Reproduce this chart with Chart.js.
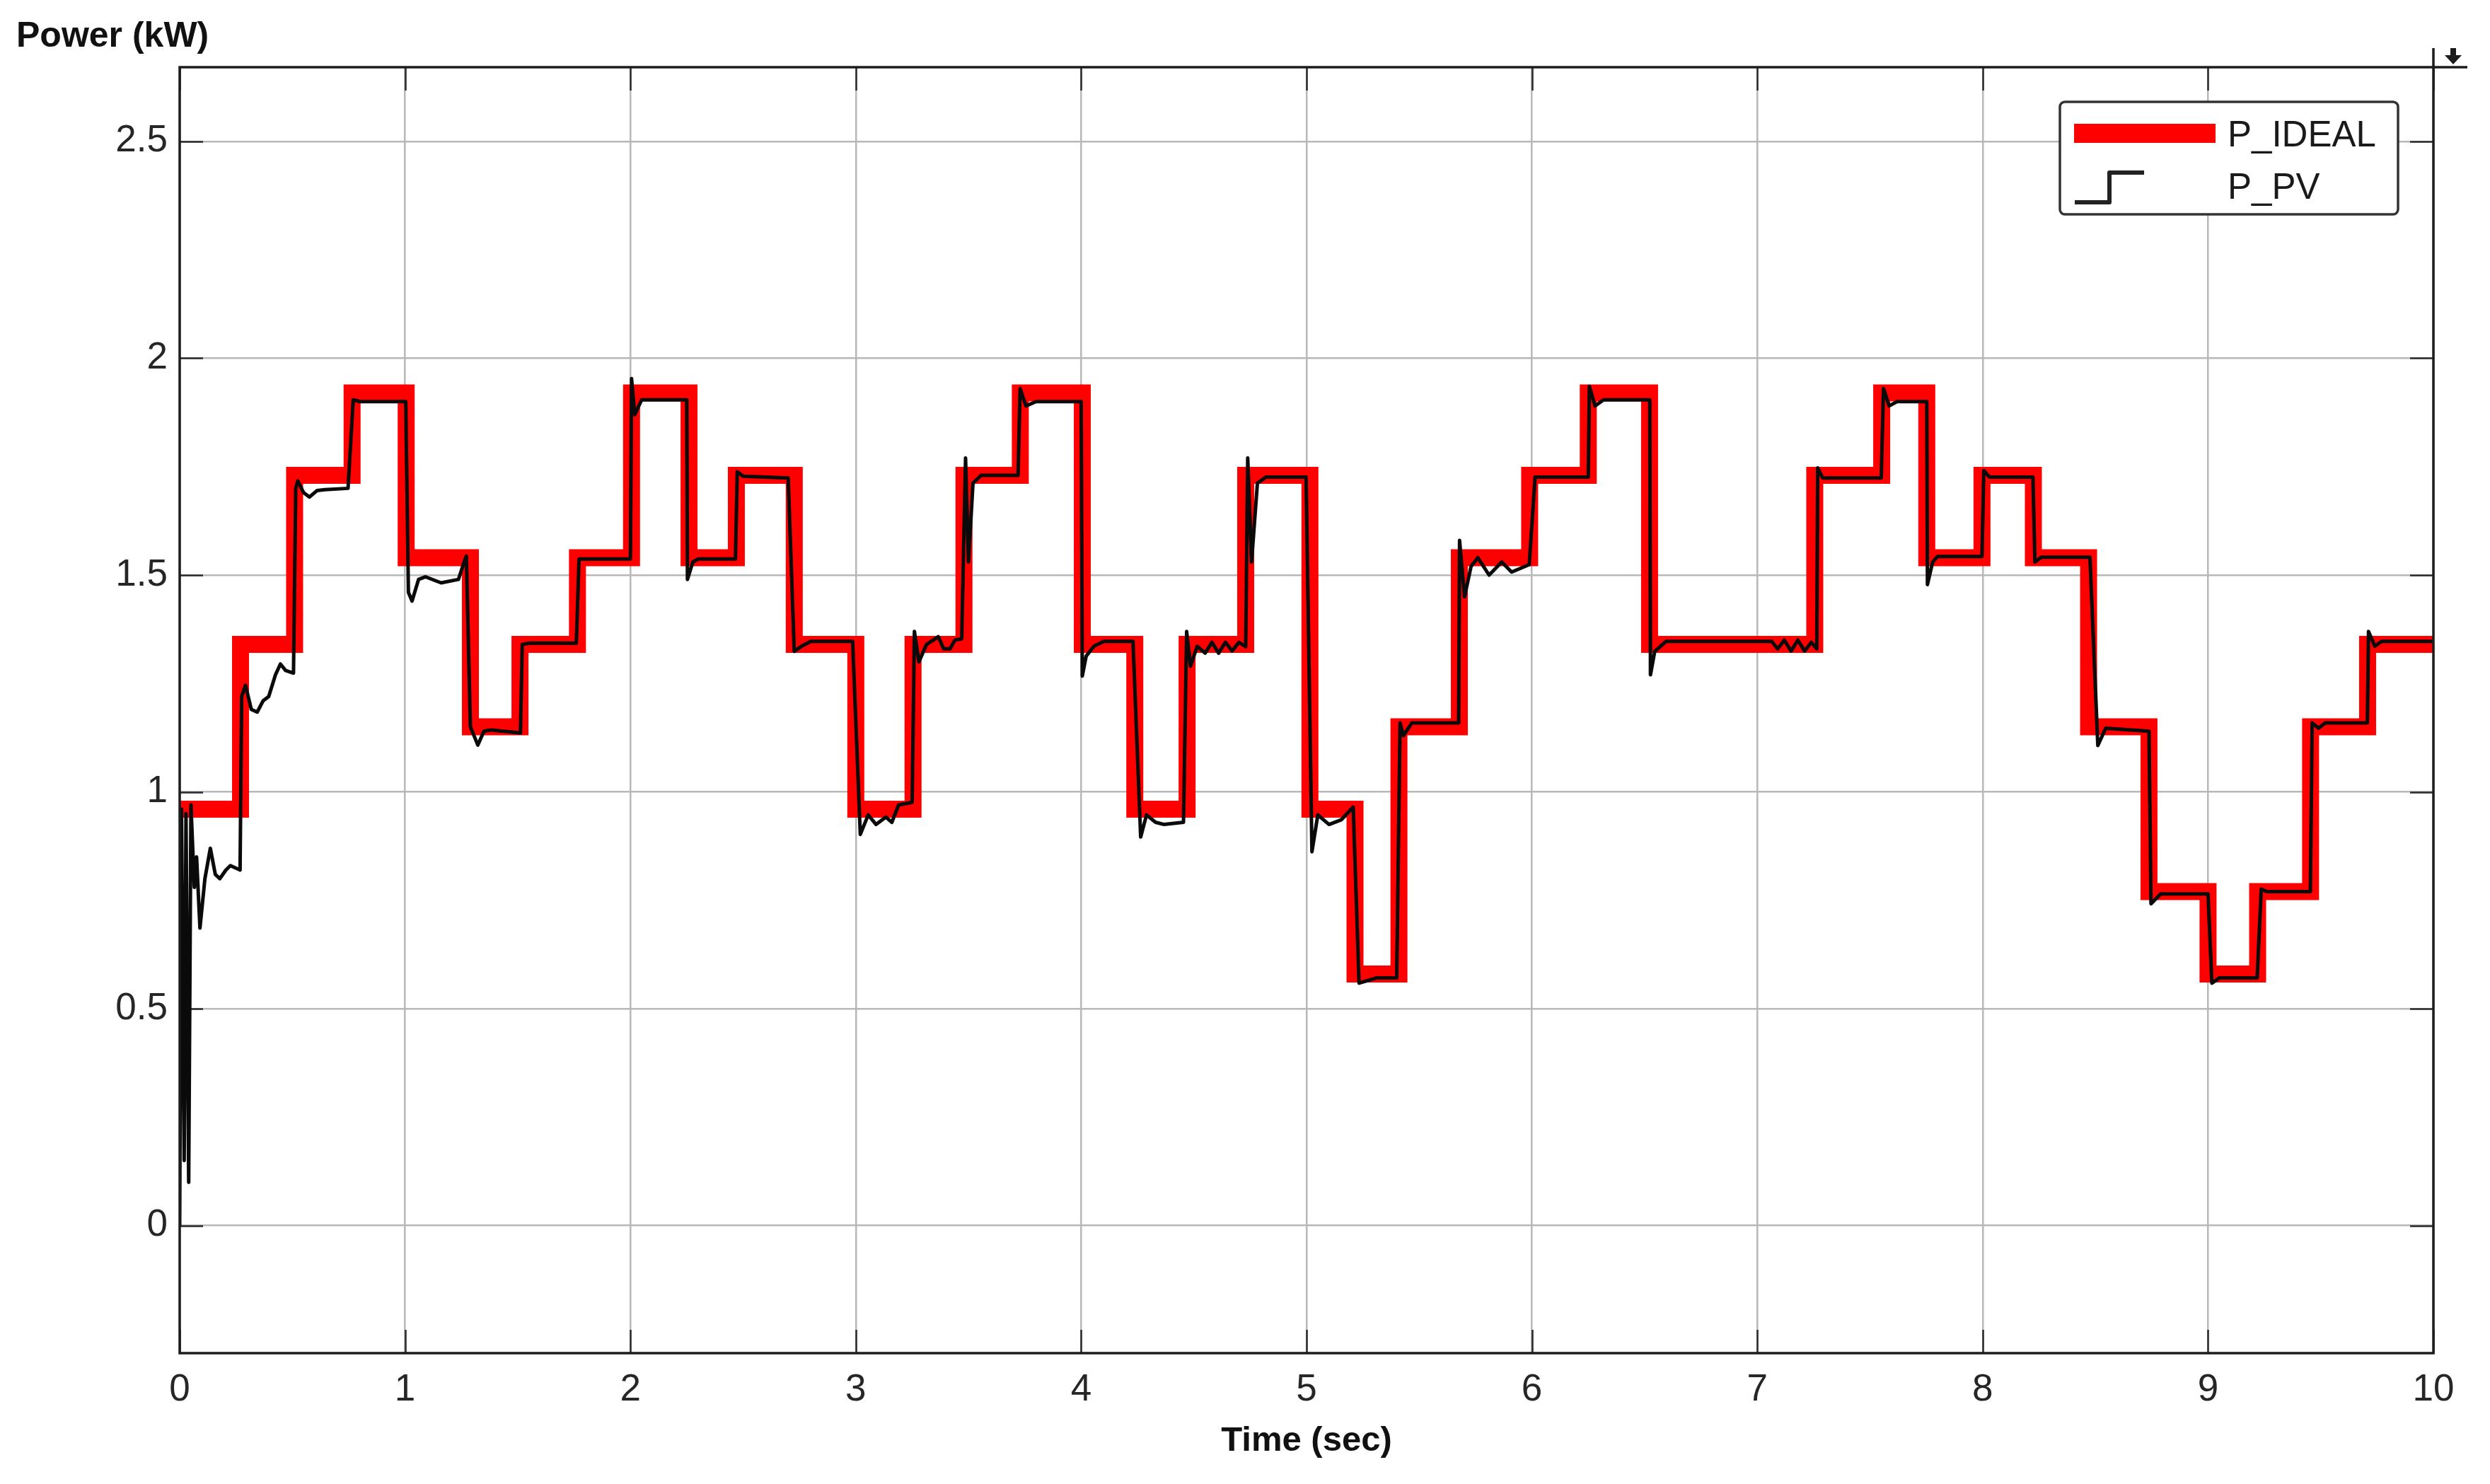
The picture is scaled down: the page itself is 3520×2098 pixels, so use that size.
<!DOCTYPE html>
<html>
<head>
<meta charset="utf-8">
<title>P_IDEAL vs P_PV</title>
<script src="https://cdn.jsdelivr.net/npm/chart.js@4.4.1/dist/chart.umd.min.js"></script>
<style>
  html, body { margin: 0; padding: 0; background: #fff; }
  canvas { display: block; }
</style>
</head>
<body>
<canvas id="scope" width="3520" height="2098"></canvas>
<script>
// ---- data ----
// ideal power: time where each step starts (s) and its level (kW)
const idealTimes = [0, 0.27, 0.51, 0.765, 1.005, 1.29, 1.51, 1.765, 2.005, 2.26, 2.47, 2.727,
  3.0, 3.254, 3.48, 3.73, 4.005, 4.238, 4.47, 4.73, 5.015, 5.215, 5.41, 5.678, 5.99, 6.25,
  6.522, 7.255, 7.552, 7.752, 7.997, 8.225, 8.47, 8.738, 9.0, 9.22, 9.455, 9.708];
const idealPower = [0.96, 1.34, 1.73, 1.92, 1.54, 1.15, 1.34, 1.54, 1.92, 1.54, 1.73, 1.34,
  0.96, 1.34, 1.73, 1.92, 1.34, 0.96, 1.34, 1.73, 0.96, 0.58, 1.15, 1.54, 1.73, 1.92,
  1.34, 1.73, 1.92, 1.54, 1.73, 1.54, 1.15, 0.77, 0.58, 0.77, 1.15, 1.34];
const endTime = 10;

// measured PV power, [time (s), kW]
const pvTrace = [
  [0, 0], [0.008, 0.96], [0.02, 0.15], [0.028, 0.95], [0.04, 0.10], [0.05, 0.97],
  [0.065, 0.78], [0.075, 0.85], [0.09, 0.686], [0.112, 0.80], [0.136, 0.87], [0.158, 0.81],
  [0.178, 0.80], [0.205, 0.82], [0.225, 0.83], [0.268, 0.82], [0.275, 1.22], [0.292, 1.246],
  [0.318, 1.19], [0.344, 1.184], [0.37, 1.21], [0.395, 1.22], [0.425, 1.27], [0.447, 1.295],
  [0.47, 1.28], [0.505, 1.274], [0.515, 1.70], [0.524, 1.717], [0.55, 1.69], [0.576, 1.68],
  [0.61, 1.695], [0.644, 1.697], [0.747, 1.70], [0.77, 1.904], [0.8, 1.90], [1.003, 1.90],
  [1.015, 1.46], [1.031, 1.44], [1.06, 1.49], [1.091, 1.496], [1.16, 1.482], [1.237, 1.49],
  [1.262, 1.53], [1.272, 1.544], [1.29, 1.15], [1.323, 1.108], [1.35, 1.14], [1.383, 1.143],
  [1.512, 1.136], [1.52, 1.34], [1.55, 1.343], [1.76, 1.343], [1.772, 1.537], [2.0, 1.537],
  [2.005, 1.953], [2.019, 1.87], [2.05, 1.904], [2.25, 1.904], [2.253, 1.49], [2.277, 1.53],
  [2.3, 1.537], [2.466, 1.537], [2.474, 1.738], [2.5, 1.728], [2.70, 1.724], [2.727, 1.324],
  [2.76, 1.336], [2.8, 1.347], [2.986, 1.347], [3.02, 0.902], [3.055, 0.947], [3.09, 0.925],
  [3.133, 0.942], [3.16, 0.93], [3.19, 0.97], [3.25, 0.976], [3.26, 1.37], [3.28, 1.30],
  [3.314, 1.34], [3.366, 1.358], [3.39, 1.33], [3.418, 1.33], [3.44, 1.35], [3.47, 1.353],
  [3.487, 1.77], [3.50, 1.53], [3.52, 1.712], [3.556, 1.73], [3.72, 1.73], [3.729, 1.93],
  [3.755, 1.89], [3.8, 1.90], [4.0, 1.90], [4.005, 1.267], [4.022, 1.313], [4.057, 1.336],
  [4.1, 1.347], [4.23, 1.347], [4.264, 0.896], [4.29, 0.947], [4.33, 0.93], [4.368, 0.925],
  [4.454, 0.93], [4.468, 1.37], [4.485, 1.29], [4.515, 1.336], [4.55, 1.32], [4.58, 1.345],
  [4.61, 1.32], [4.64, 1.345], [4.67, 1.325], [4.70, 1.345], [4.73, 1.335], [4.739, 1.77],
  [4.756, 1.53], [4.782, 1.712], [4.82, 1.726], [4.998, 1.726], [5.024, 0.862], [5.05, 0.947],
  [5.1, 0.925], [5.155, 0.936], [5.207, 0.965], [5.233, 0.559], [5.31, 0.571], [5.40, 0.571],
  [5.415, 1.159], [5.43, 1.13], [5.467, 1.159], [5.675, 1.159], [5.679, 1.58], [5.701, 1.45],
  [5.73, 1.52], [5.76, 1.54], [5.81, 1.50], [5.866, 1.53], [5.91, 1.507], [5.988, 1.524],
  [6.014, 1.726], [6.25, 1.726], [6.255, 1.935], [6.28, 1.89], [6.318, 1.904], [6.523, 1.904],
  [6.526, 1.27], [6.545, 1.324], [6.595, 1.347], [7.064, 1.347], [7.09, 1.33], [7.12, 1.35],
  [7.15, 1.325], [7.18, 1.35], [7.21, 1.325], [7.24, 1.345], [7.264, 1.33], [7.268, 1.747],
  [7.29, 1.724], [7.55, 1.724], [7.56, 1.93], [7.585, 1.89], [7.62, 1.90], [7.752, 1.90],
  [7.755, 1.478], [7.778, 1.53], [7.8, 1.543], [7.997, 1.543], [8.005, 1.741], [8.03, 1.726],
  [8.223, 1.726], [8.232, 1.53], [8.26, 1.541], [8.476, 1.541], [8.511, 1.107], [8.546, 1.147],
  [8.738, 1.14], [8.747, 0.742], [8.79, 0.765], [9.0, 0.765], [9.017, 0.559], [9.05, 0.571],
  [9.218, 0.571], [9.236, 0.776], [9.26, 0.77], [9.454, 0.77], [9.462, 1.159], [9.49, 1.147],
  [9.52, 1.159], [9.707, 1.159], [9.712, 1.37], [9.74, 1.336], [9.77, 1.347], [10, 1.347]
];

const xTicks = [0, 1, 2, 3, 4, 5, 6, 7, 8, 9, 10];
const yTicks = [0, 0.5, 1, 1.5, 2, 2.5];
const yMin = -0.294, yMax = 2.671;
const seriesNames = ['P_IDEAL', 'P_PV'];
const yLabel = 'Power (kW)';
const xLabel = 'Time (sec)';

const FONT = '"Liberation Sans", Arial, sans-serif';
const RED = '#ff0000';
const INK = '#111111';

// ---- scope decorations: inner ticks, frame, legend, labels ----
const scopeFrame = {
  id: 'scopeFrame',
  beforeDatasetsDraw(chart) {
    const { ctx, chartArea: a, scales: { x, y } } = chart;
    ctx.save();
    ctx.strokeStyle = '#2a2a2a';
    ctx.lineWidth = 2.5;
    ctx.beginPath();
    yTicks.forEach(v => {
      const py = Math.round(y.getPixelForValue(v)) + 0.5;
      ctx.moveTo(a.left, py); ctx.lineTo(a.left + 33, py);
      ctx.moveTo(a.right, py); ctx.lineTo(a.right - 33, py);
    });
    xTicks.forEach(v => {
      const px = Math.round(x.getPixelForValue(v)) + 0.5;
      ctx.moveTo(px, a.bottom); ctx.lineTo(px, a.bottom - 33);
      ctx.moveTo(px, a.top); ctx.lineTo(px, a.top + 33);
    });
    ctx.stroke();
    ctx.restore();
  },
  afterDatasetsDraw(chart) {
    const { ctx, chartArea: a } = chart;
    ctx.save();
    // axes box
    ctx.strokeStyle = '#1c1c1c';
    ctx.lineWidth = 3.5;
    ctx.strokeRect(a.left, a.top, a.right - a.left, a.bottom - a.top);

    // little scope icon past the top-right corner
    ctx.beginPath();
    ctx.moveTo(a.right, a.top - 27); ctx.lineTo(a.right, a.top);
    ctx.lineTo(a.right + 48, a.top);
    ctx.stroke();
    ctx.fillStyle = '#1c1c1c';
    ctx.beginPath();
    ctx.moveTo(a.right + 24, a.top - 27);
    ctx.lineTo(a.right + 32, a.top - 27);
    ctx.lineTo(a.right + 32, a.top - 17);
    ctx.lineTo(a.right + 40, a.top - 17);
    ctx.lineTo(a.right + 28, a.top - 4);
    ctx.lineTo(a.right + 16, a.top - 17);
    ctx.lineTo(a.right + 24, a.top - 17);
    ctx.closePath();
    ctx.fill();

    // legend
    const lx = a.right - 528, ly = a.top + 49, lw = 478, lh = 159;
    ctx.fillStyle = '#ffffff';
    ctx.strokeStyle = '#333333';
    ctx.lineWidth = 3.5;
    ctx.beginPath();
    ctx.roundRect(lx, ly, lw, lh, 7);
    ctx.fill();
    ctx.stroke();

    ctx.fillStyle = RED;
    ctx.fillRect(lx + 20, ly + 31, 200, 27);

    ctx.strokeStyle = '#222222';
    ctx.lineWidth = 6;
    ctx.lineJoin = 'round';
    ctx.beginPath();
    ctx.moveTo(lx + 21, ly + 142);
    ctx.lineTo(lx + 70, ly + 142);
    ctx.lineTo(lx + 70, ly + 100);
    ctx.lineTo(lx + 119, ly + 100);
    ctx.stroke();

    ctx.fillStyle = '#1a1a1a';
    ctx.font = `51px ${FONT}`;
    ctx.textBaseline = 'middle';
    ctx.textAlign = 'left';
    ctx.fillText(seriesNames[0], lx + 237, ly + 49);
    ctx.fillText(seriesNames[1], lx + 237, ly + 123);

    // y label sits horizontally above the axis, scope style
    ctx.font = `bold 50px ${FONT}`;
    ctx.fillStyle = INK;
    ctx.fillText(yLabel, 23, 52);
    ctx.restore();
  }
};

const idealData = idealTimes.map((t, i) => ({ x: t, y: idealPower[i] }));
idealData.push({ x: endTime, y: idealPower[idealPower.length - 1] });
const pvData = pvTrace.map(([t, p]) => ({ x: t, y: p }));

new Chart(document.getElementById('scope'), {
  type: 'line',
  data: {
    datasets: [
      {
        label: seriesNames[0], data: idealData, order: 2,
        borderColor: RED, borderWidth: 24, stepped: 'before',
        borderJoinStyle: 'miter', borderCapStyle: 'butt',
        pointRadius: 0, fill: false,
      },
      {
        label: seriesNames[1], data: pvData, order: 1,
        borderColor: '#0a0a0a', borderWidth: 5, tension: 0,
        borderJoinStyle: 'round', pointRadius: 0, fill: false,
      },
    ],
  },
  options: {
    responsive: false,
    devicePixelRatio: 1,
    animation: false,
    events: [],
    layout: { padding: { top: 95, right: 80, bottom: 0, left: 0 } },
    plugins: { legend: { display: false }, tooltip: { enabled: false } },
    scales: {
      x: {
        type: 'linear', min: 0, max: endTime,
        afterBuildTicks(scale) { scale.ticks = xTicks.map(v => ({ value: v })); },
        afterFit(scale) { scale.height = 185; },
        grid: { color: '#b8b8b8', lineWidth: 2.5, drawTicks: false },
        border: { display: false },
        ticks: {
          color: '#262626', padding: 21, maxRotation: 0,
          font: { family: FONT, size: 53 },
          callback: v => String(v),
        },
        title: {
          display: true, text: xLabel, color: INK,
          font: { family: FONT, size: 49, weight: 'bold' },
          padding: { top: 0, bottom: 31 },
        },
      },
      y: {
        type: 'linear', min: yMin, max: yMax,
        afterBuildTicks(scale) { scale.ticks = yTicks.map(v => ({ value: v })); },
        afterFit(scale) { scale.width = 254; },
        grid: { color: '#b8b8b8', lineWidth: 2.5, drawTicks: false },
        border: { display: false },
        ticks: {
          color: '#262626', padding: 17,
          font: { family: FONT, size: 53 },
          callback: v => String(v),
        },
      },
    },
  },
  plugins: [scopeFrame],
});
</script>
</body>
</html>
